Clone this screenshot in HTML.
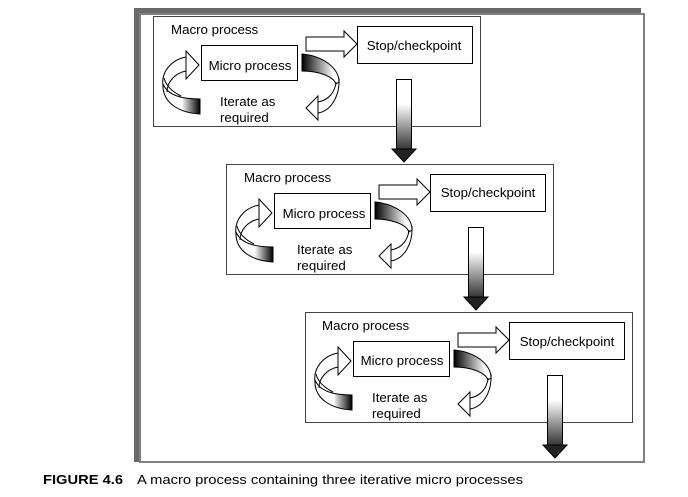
<!DOCTYPE html>
<html><head><meta charset="utf-8"><style>
html,body{margin:0;padding:0;background:#fff;}
svg{display:block;}
text{font-family:"Liberation Sans",Arial,sans-serif;fill:#000;}
</style></head><body>
<svg width="688" height="497" viewBox="0 0 688 497" xmlns="http://www.w3.org/2000/svg">
<defs>
  <linearGradient id="dn" x1="0" y1="0" x2="0" y2="1">
    <stop offset="0" stop-color="#fff"/>
    <stop offset="0.35" stop-color="#fff"/>
    <stop offset="1" stop-color="#333"/>
  </linearGradient>
  <linearGradient id="lc" x1="0" y1="0" x2="1" y2="0">
    <stop offset="0" stop-color="#fff"/>
    <stop offset="0.5" stop-color="#fff"/>
    <stop offset="1" stop-color="#000"/>
  </linearGradient>
  <linearGradient id="rc" x1="0" y1="0" x2="1" y2="0">
    <stop offset="0" stop-color="#000"/>
    <stop offset="0.85" stop-color="#fff"/>
  </linearGradient>
  <g id="blk" stroke="#000" stroke-width="1">
    <rect x="0.5" y="0.5" width="327" height="110" fill="#fff" stroke="#444"/>
    <rect x="48.5" y="29.5" width="96" height="35" fill="#fff"/>
    <rect x="204.5" y="10.5" width="115" height="37" fill="#fff"/>
    <polygon points="153,21 191,21 191,15 204,28 191,41 191,35 153,35" fill="#fff"/>
    <path d="M10,68 C9,88 28,97 47,98 L47,83 C30,83 15,80 10,68 Z" fill="url(#lc)"/>
    <path d="M33,41 C18,44 8,56 10,70 M33,55 C22,57 14,66 14,76" fill="none"/>
    <path d="M11,62 C13,70 20,76 28,80" fill="none"/>
    <polygon points="33,35 46,49 33,63 33,55 33,41" fill="#fff"/>
    <path d="M149,38 C170,40 186,52 186,66 L183,68 C180,60 165,55 149,55 Z" fill="url(#rc)"/>
    <path d="M186,62 C187,80 178,95 165,97 M183,66 C182,76 176,84 165,86" fill="none"/>
    <polygon points="165,80 153,92 165,104" fill="#fff"/>
  </g>
  <g id="darr" stroke="#000" stroke-width="1">
    <rect x="0.5" y="0.5" width="15" height="70" fill="url(#dn)"/>
    <polygon points="-4,70 20,70 8,83" fill="#222"/>
  </g>
</defs>

<rect x="134" y="8" width="507" height="6" fill="#6a6a6a"/>
<rect x="134" y="8" width="6" height="454" fill="#6a6a6a"/>
<rect x="140" y="14" width="504" height="448" fill="none" stroke="#808080" stroke-width="2"/>

<g font-size="13.3">
<use href="#blk" x="153" y="16"/>
<use href="#darr" x="396" y="79"/>
<text x="171" y="34">Macro process</text>
<text x="250" y="70" text-anchor="middle">Micro process</text>
<text x="414" y="50" text-anchor="middle">Stop/checkpoint</text>
<text x="220" y="106">Iterate as</text>
<text x="220" y="122">required</text>

<use href="#blk" x="226" y="164"/>
<use href="#darr" x="468" y="227"/>
<text x="244" y="182">Macro process</text>
<text x="324" y="218" text-anchor="middle">Micro process</text>
<text x="488" y="197" text-anchor="middle">Stop/checkpoint</text>
<text x="297" y="254">Iterate as</text>
<text x="297" y="270">required</text>

<use href="#blk" x="305" y="312"/>
<use href="#darr" x="547" y="375"/>
<text x="322" y="330">Macro process</text>
<text x="402" y="365" text-anchor="middle">Micro process</text>
<text x="567" y="346" text-anchor="middle">Stop/checkpoint</text>
<text x="372" y="402">Iterate as</text>
<text x="372" y="418">required</text>
</g>

<text x="43" y="484" font-size="13" font-weight="bold" textLength="80" lengthAdjust="spacingAndGlyphs">FIGURE 4.6</text>
<text x="137" y="484" font-size="13" textLength="386" lengthAdjust="spacingAndGlyphs">A macro process containing three iterative micro processes</text>
</svg>
</body></html>
